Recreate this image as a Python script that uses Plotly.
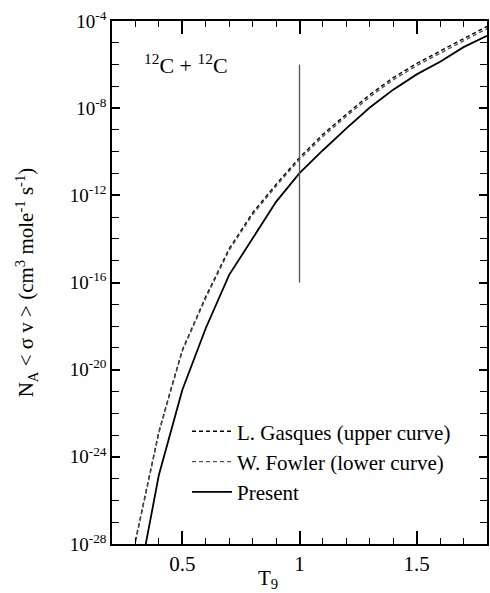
import plotly.graph_objects as go

# Temperature grid (T9)
t_present = [0.30, 0.35, 0.40, 0.50, 0.60, 0.70, 0.80, 0.90, 1.00, 1.10, 1.20, 1.30, 1.40, 1.50, 1.60, 1.70, 1.80]
log_present = [-30.5, -27.6, -24.83, -20.93, -18.1, -15.65, -13.95, -12.3, -10.98, -9.93, -8.93, -7.97, -7.15, -6.45, -5.87, -5.2, -4.68]

t_lit = [0.30, 0.35, 0.40, 0.45, 0.50, 0.60, 0.70, 0.80, 0.90, 1.00, 1.10, 1.20, 1.30, 1.40, 1.50, 1.60, 1.70, 1.80]
log_gasques = [-27.85, -25.3, -22.85, -20.95, -19.1, -16.65, -14.45, -12.8, -11.5, -10.27, -9.2, -8.28, -7.38, -6.6, -5.95, -5.38, -4.8, -4.25]
log_fowler = [-27.9, -25.35, -22.9, -21.0, -19.15, -16.72, -14.52, -12.88, -11.58, -10.36, -9.3, -8.37, -7.48, -6.7, -6.05, -5.48, -4.9, -4.35]

marker_t = [1.0, 1.0]
marker_log = [-6, -16]

y_major_exp = [-28, -24, -20, -16, -12, -8, -4]
x_major = [0.5, 1.0, 1.5]
x_major_labels = ["0.5", "1", "1.5"]

present = [10 ** v for v in log_present]
gasques = [10 ** v for v in log_gasques]
fowler = [10 ** v for v in log_fowler]
marker_y = [10 ** v for v in marker_log]

FONT = "Liberation Serif"

fig = go.Figure()
fig.add_trace(go.Scatter(x=t_lit, y=gasques, mode="lines", name="L. Gasques (upper curve)",
                         line=dict(color="black", width=1.4, dash="4px,3px")))
fig.add_trace(go.Scatter(x=t_lit, y=fowler, mode="lines", name="W. Fowler (lower curve)",
                         line=dict(color="#555555", width=1.4, dash="4px,3px")))
fig.add_trace(go.Scatter(x=t_present, y=present, mode="lines", name="Present",
                         line=dict(color="black", width=1.8)))
fig.add_trace(go.Scatter(x=marker_t, y=marker_y, mode="lines", showlegend=False,
                         line=dict(color="#555555", width=1.3)))

fig.update_layout(
    width=490, height=593,
    margin=dict(l=112, r=1, t=21, b=49),
    paper_bgcolor="white", plot_bgcolor="white",
    font=dict(family=FONT, size=18, color="black"),
    showlegend=True,
    legend=dict(x=0.2, y=0.254, xanchor="left", yanchor="top", bgcolor="rgba(0,0,0,0)",
                font=dict(family=FONT, size=21), itemwidth=40, tracegroupgap=0),
    annotations=[
        dict(x=0.08, y=0.918, xref="paper", yref="paper", xanchor="left", yanchor="middle",
             text="<sup>12</sup>C + <sup>12</sup>C", showarrow=False,
             font=dict(family=FONT, size=22)),
        dict(x=0.384, y=-0.066, xref="paper", yref="paper", xanchor="left", yanchor="middle",
             text="T<sub>9</sub>", showarrow=False, font=dict(family=FONT, size=21)),
    ],
)

fig.update_xaxes(
    range=[0.2, 1.8], showline=True, linecolor="black", linewidth=1.5, mirror="ticks",
    ticks="inside", ticklen=13, tickwidth=1.5, tickcolor="black",
    tickvals=x_major, ticktext=x_major_labels, showgrid=False, zeroline=False,
    minor=dict(ticks="inside", dtick=0.1, tick0=0.2, ticklen=6, tickwidth=1.3, tickcolor="black", showgrid=False),
    tickfont=dict(family=FONT, size=21),
)
fig.update_yaxes(
    type="log", range=[-28, -4], showline=True, linecolor="black", linewidth=1.5, mirror="ticks",
    ticks="inside", ticklen=8, tickwidth=1.5, tickcolor="black",
    tickvals=[10 ** e for e in y_major_exp],
    ticktext=["10<sup>%d</sup>" % e for e in y_major_exp],
    showgrid=False, zeroline=False,
    minor=dict(ticks="inside", tickmode="array", tickvals=[10 ** e for e in range(-28, -3)],
               ticklen=7, tickwidth=1.3, tickcolor="black", showgrid=False),
    title=dict(text="N<sub>A</sub> < σ v > (cm<sup>3</sup> mole<sup>-1</sup> s<sup>-1</sup>)",
               font=dict(family=FONT, size=21), standoff=30),
    tickfont=dict(family=FONT, size=19),
)

fig.write_html("out.html")
